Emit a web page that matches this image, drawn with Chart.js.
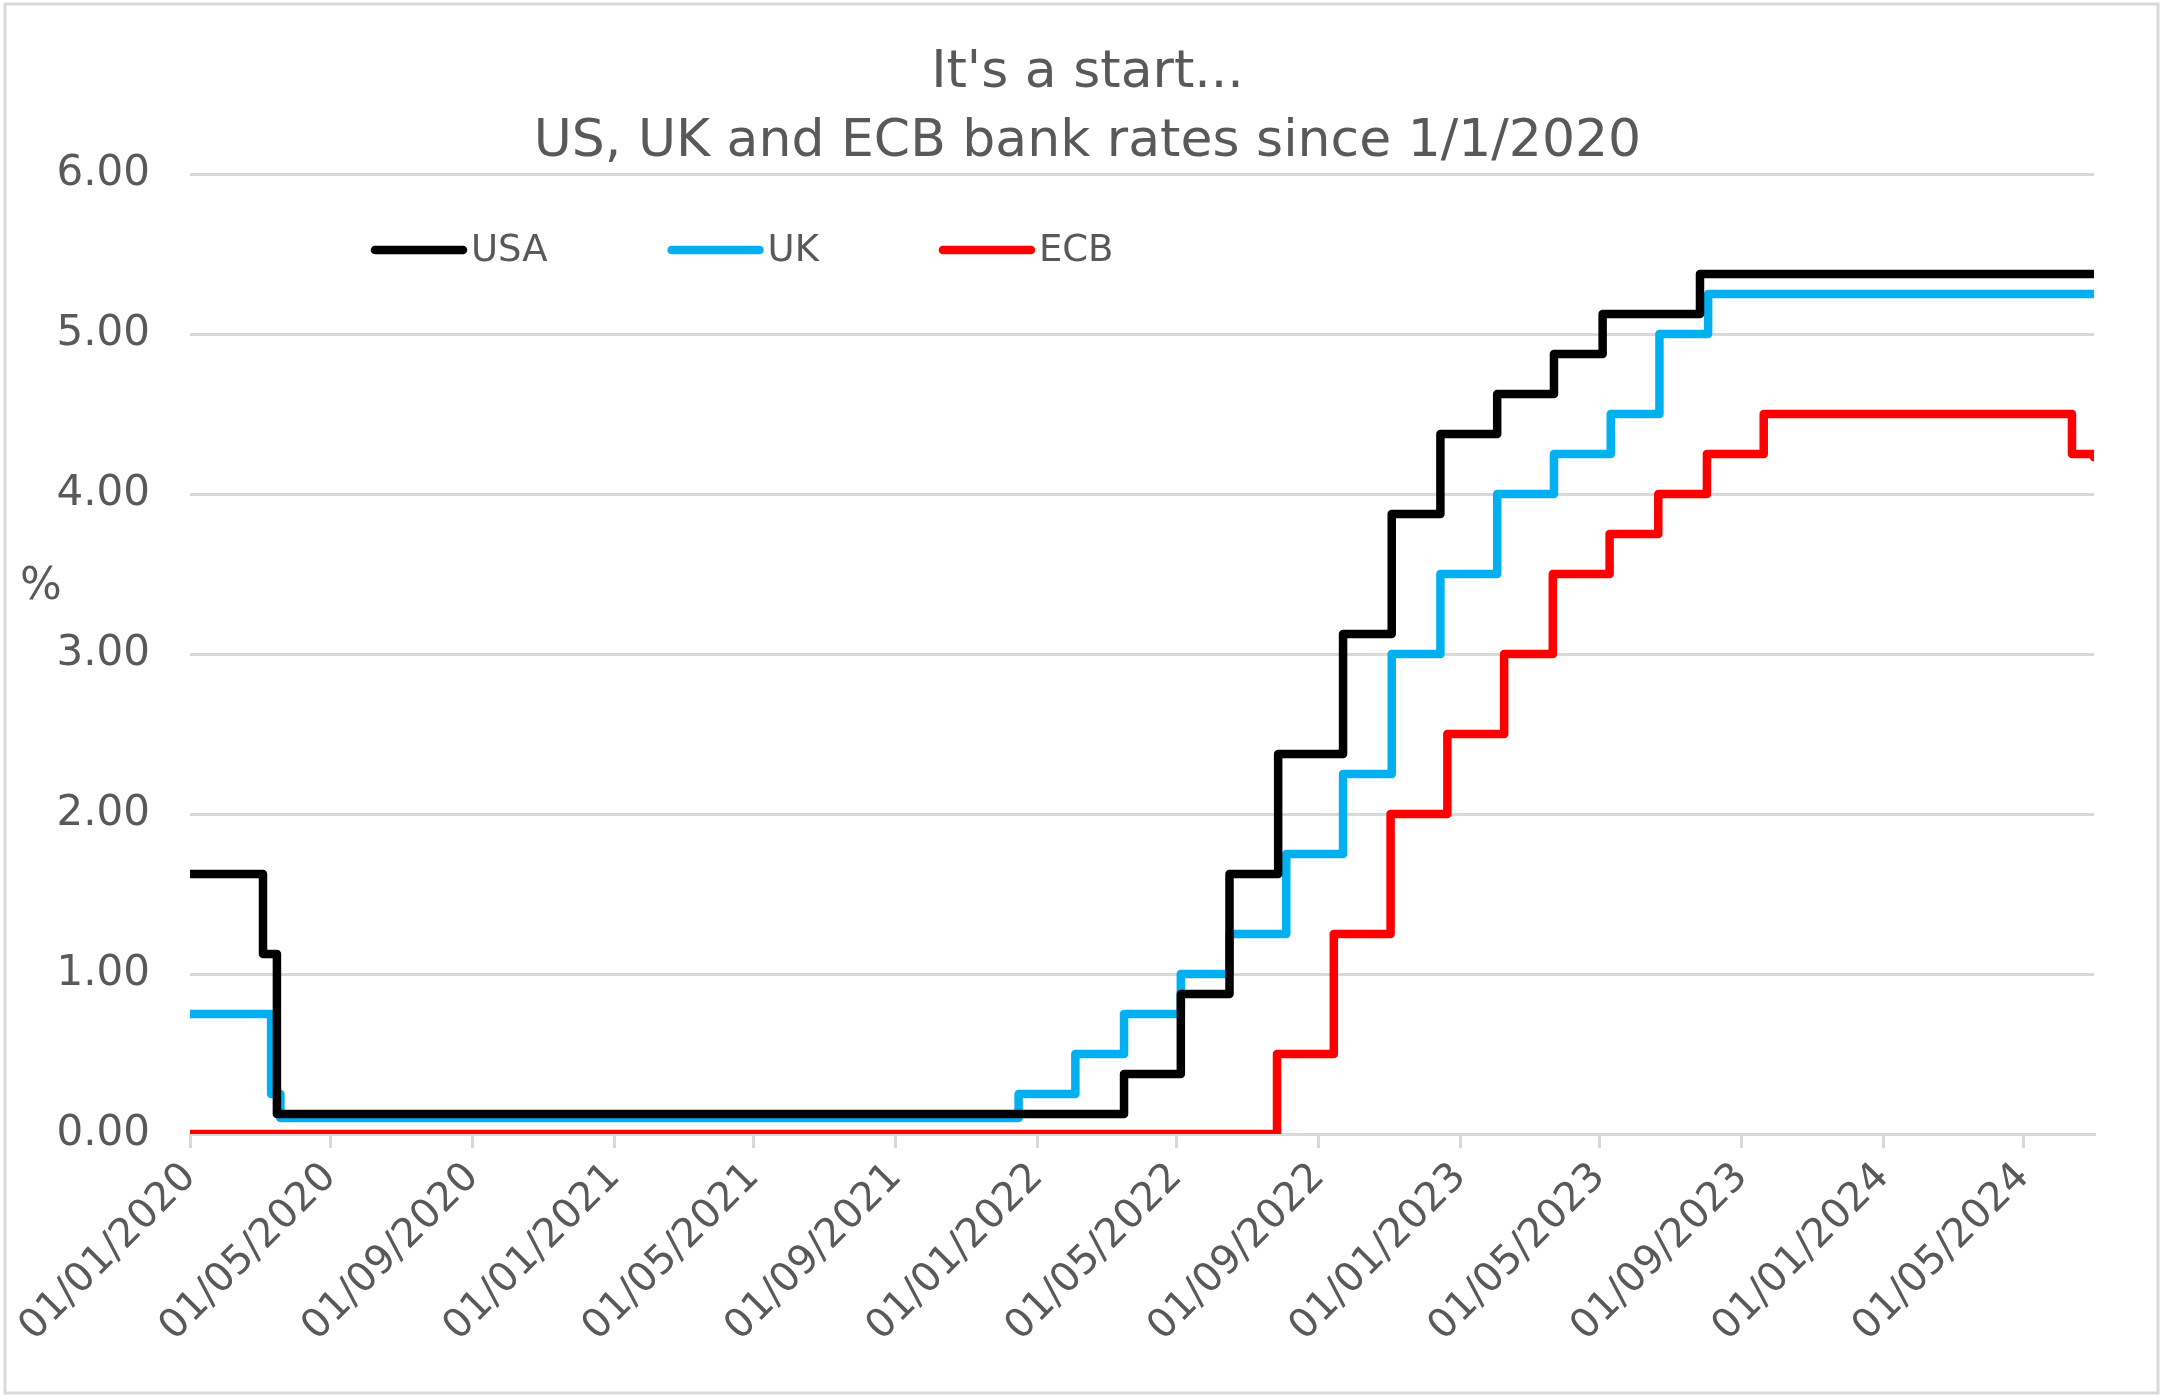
<!DOCTYPE html>
<html>
<head>
<meta charset="utf-8">
<script src="https://cdn.jsdelivr.net/npm/chart.js@4"></script>
<style>
  html, body { margin:0; padding:0; background:#fff; }
  canvas { display:block; }
</style>
</head>
<body>
<canvas id="chart" width="2163" height="1397"></canvas>
<script>
// Rate change dates (step-before: value holds from that date on)
const usaDates = ["2020-01-01","2020-03-04","2020-03-16","2022-03-17","2022-05-05","2022-06-16","2022-07-28",
  "2022-09-22","2022-11-03","2022-12-15","2023-02-02","2023-03-23","2023-05-04","2023-07-27","2024-07-01"];
const usaRates = [1.625,1.125,0.125,0.375,0.875,1.625,2.375,3.125,3.875,4.375,4.625,4.875,5.125,5.375,5.375];

const ukDates = ["2020-01-01","2020-03-11","2020-03-19","2021-12-16","2022-02-03","2022-03-17","2022-05-05",
  "2022-06-16","2022-08-04","2022-09-22","2022-11-03","2022-12-15","2023-02-02","2023-03-23","2023-05-11",
  "2023-06-22","2023-08-03","2024-07-01"];
const ukRates = [0.75,0.25,0.10,0.25,0.50,0.75,1.00,1.25,1.75,2.25,3.00,3.50,4.00,4.25,4.50,5.00,5.25,5.25];

const ecbDates = ["2020-01-01","2022-07-27","2022-09-14","2022-11-02","2022-12-21","2023-02-08","2023-03-22",
  "2023-05-10","2023-06-21","2023-08-02","2023-09-20","2024-06-12","2024-07-01"];
const ecbRates = [0,0.50,1.25,2.00,2.50,3.00,3.50,3.75,4.00,4.25,4.50,4.25,4.23];

const tickLabels = ["01/01/2020","01/05/2020","01/09/2020","01/01/2021","01/05/2021","01/09/2021",
  "01/01/2022","01/05/2022","01/09/2022","01/01/2023","01/05/2023","01/09/2023","01/01/2024","01/05/2024"];

const titleLines = ["It's a start...", "US, UK and ECB bank rates since 1/1/2020"];

const TEXT = "#595959", GRID = "#d9d9d9", FONT = "'DejaVu Sans', sans-serif";
const BASE = Date.UTC(2020,0,1);
const isoDay = s => { const [y,m,d]=s.split("-").map(Number); return (Date.UTC(y,m-1,d)-BASE)/86400000; };
const ukDay = s => { const [d,m,y]=s.split("/").map(Number); return (Date.UTC(y,m-1,d)-BASE)/86400000; };
const tickDays = tickLabels.map(ukDay);
const toPoints = (dates, rates) => dates.map((d,i)=>({x: isoDay(d), y: rates[i]}));

function series(label, dates, rates, color){
  return {
    label, data: toPoints(dates, rates), borderColor: color, backgroundColor: color,
    borderWidth: 8.5, stepped: "before", pointRadius: 0,
    borderCapStyle: "round", borderJoinStyle: "round", tension: 0
  };
}

const framePlugin = {
  id: "frame",
  beforeDraw(chart){
    const c = chart.ctx;
    c.save();
    c.fillStyle = "#fff";
    c.fillRect(0,0,chart.width,chart.height);
    c.strokeStyle = GRID; c.lineWidth = 3;
    c.strokeRect(5,4,chart.width-10,chart.height-8);
    c.restore();
  },
  afterDraw(chart){
    const c = chart.ctx, a = chart.chartArea;
    c.save();
    c.fillStyle = TEXT;
    c.textAlign = "center"; c.textBaseline = "middle";
    c.font = "52px " + FONT;
    titleLines.forEach((t,i)=> c.fillText(t, chart.width/2 + 6, 73 + i*69));
    // y axis unit
    c.font = "44px " + FONT;
    c.fillText("%", 41, 588);
    // legend inside plot area
    let x = a.left + 185;
    const y = a.top + 76;
    c.textAlign = "left";
    c.font = "37px " + FONT;
    chart.data.datasets.forEach(ds=>{
      c.strokeStyle = ds.borderColor; c.lineWidth = 8.5; c.lineCap = "round";
      c.beginPath(); c.moveTo(x, y); c.lineTo(x+88, y); c.stroke();
      c.fillStyle = TEXT;
      c.fillText(ds.label, x+96, y+1);
      x += 96 + c.measureText(ds.label).width + 124;
    });
    c.restore();
  }
};

new Chart(document.getElementById("chart"), {
  type: "line",
  data: { datasets: [
    series("USA", usaDates, usaRates, "#000000"),
    series("UK", ukDates, ukRates, "#00B0F0"),
    series("ECB", ecbDates, ecbRates, "#FF0000")
  ]},
  options: {
    responsive: false, animation: false, devicePixelRatio: 1,
    layout: { padding: { top: 174, right: 69, bottom: 40, left: 56 } },
    plugins: { legend: { display:false }, title: { display:false }, tooltip: { enabled:false } },
    scales: {
      x: {
        type: "linear", min: 0, max: isoDay("2024-07-01"),
        afterBuildTicks: ax => { ax.ticks = tickDays.map(v=>({value:v})); },
        // first rotated label may overhang into the y-label margin, as in the original
        afterFit: ax => { ax.paddingLeft = 0; ax.paddingRight = 0; },
        grid: { drawOnChartArea:false, drawTicks:true, tickLength:14, color:GRID, lineWidth:3 },
        border: { display:true, color:GRID, width:3 },
        ticks: {
          autoSkip:false, minRotation:45, maxRotation:45, padding:6,
          color:TEXT, font:{ family:FONT, size:40 },
          callback: (v, i) => tickLabels[i]
        }
      },
      y: {
        min: 0, max: 6,
        afterFit: ax => { ax.paddingTop = 0; ax.paddingBottom = 0; ax.width = 134; },
        ticks: { stepSize:1, padding:40, color:TEXT, font:{ family:FONT, size:42 },
          callback: v => Number(v).toFixed(2) },
        grid: { color:GRID, lineWidth:3, drawTicks:false },
        border: { display:false }
      }
    }
  },
  plugins: [framePlugin]
});
</script>
</body>
</html>
